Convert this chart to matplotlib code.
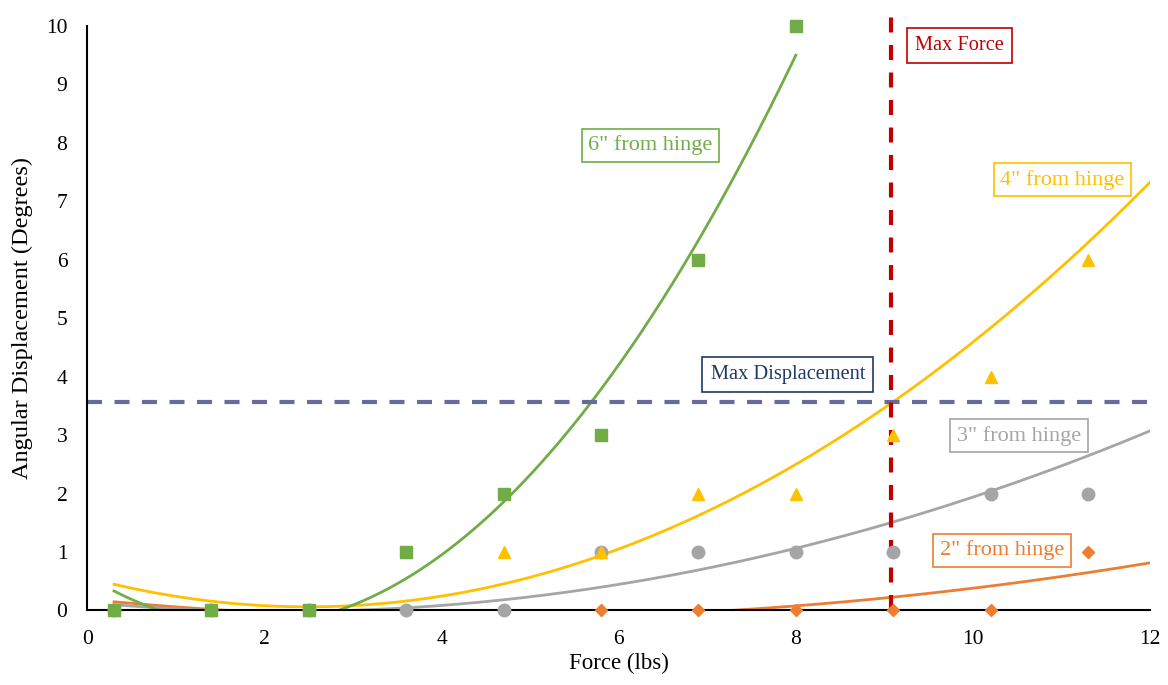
import numpy as np
import matplotlib.pyplot as plt

plt.rcParams['font.family'] = ['Liberation Serif', 'DejaVu Serif']

# Force values (lbs); the last reading lies past the 12 lb axis limit
force = [0.3, 1.4, 2.5, 3.6, 4.7, 5.8, 6.9, 8.0, 9.1, 10.2, 11.3, 12.4]

# Angular displacement (degrees) for each hinge distance
disp_6in = [0, 0, 0, 1, 2, 3, 6, 10]
disp_4in = [0, 0, 0, 1, 1, 1, 2, 2, 3, 4, 6, 9]
disp_3in = [0, 0, 0, 0, 0, 1, 1, 1, 1, 2, 2, 4]
disp_2in = [0, 0, 0, 0, 0, 0, 0, 0, 0, 0, 1, 1]

max_force = 9.08
max_disp = 3.57

x_max = 12
y_max = 10

fig = plt.figure(figsize=(11.68, 6.85), dpi=100)
ax = fig.add_axes([0.0749, 0.1088, 0.9097, 0.8533])

# drawn bottom to top
series = [
    (disp_2in, '#ED7D31', 'D', 6.3, '2" from hinge', (10.33, 1.03)),
    (disp_3in, '#A5A5A5', 'o', 9, '3" from hinge', (10.52, 2.99)),
    (disp_4in, '#FFC000', '^', 9, '4" from hinge', (11.01, 7.37)),
    (disp_6in, '#70AD47', 's', 8.5, '6" from hinge', (6.36, 7.96)),
]

for y, color, mk, ms, label, pos in series:
    x = np.array(force[:len(y)])
    y = np.array(y)
    # second-order polynomial trendline over the data range
    coef = np.polyfit(x, y, 2)
    xs = np.linspace(x[0], x[-1], 400)
    ax.plot(xs, np.polyval(coef, xs), color=color, lw=2, zorder=2)

    # only the readings inside the axis range are shown as markers
    inside = x <= x_max
    ax.plot(x[inside], y[inside], linestyle='none', marker=mk, markersize=ms,
            color=color, clip_on=False, zorder=3)

    ax.text(pos[0], pos[1], label, color=color, fontsize=16,
            ha='center', va='center', zorder=5,
            bbox=dict(boxstyle='square,pad=0.3', fc='white', ec=color, lw=1.2))

# limit lines
ax.axhline(max_disp, color='#666B9C', lw=3, ls=(0, (3.6, 3)), zorder=2.5)
ax.plot([max_force, max_force], [0, 10.33], color='#C00000', lw=3,
        ls=(0, (3.6, 3)), clip_on=False, zorder=2.5)

ax.text(9.85, 9.67, 'Max Force', color='#C00000', fontsize=14.7,
        ha='center', va='center', zorder=5,
        bbox=dict(boxstyle='square,pad=0.4', fc='white', ec='#C00000', lw=1.2))
ax.text(7.91, 4.04, 'Max Displacement', color='#1F3864', fontsize=14.7,
        ha='center', va='center', zorder=5,
        bbox=dict(boxstyle='square,pad=0.4', fc='white', ec='#1F3864', lw=1.2))

ax.set_xlim(0, x_max)
ax.set_ylim(0, y_max)
ax.set_xticks(range(0, x_max + 1, 2))
ax.set_yticks(range(0, y_max + 1))
ax.tick_params(length=0, labelsize=15.5)
ax.tick_params(axis='y', pad=14.5)
ax.tick_params(axis='x', pad=14)
ax.spines['top'].set_visible(False)
ax.spines['right'].set_visible(False)
ax.spines['left'].set_linewidth(1.5)
ax.spines['bottom'].set_linewidth(1.5)
ax.set_xlabel('Force (lbs)', fontsize=16.5, labelpad=3)
ax.set_ylabel('Angular Displacement (Degrees)', fontsize=17.5, labelpad=9)

fig.savefig('out.png', dpi=100)
